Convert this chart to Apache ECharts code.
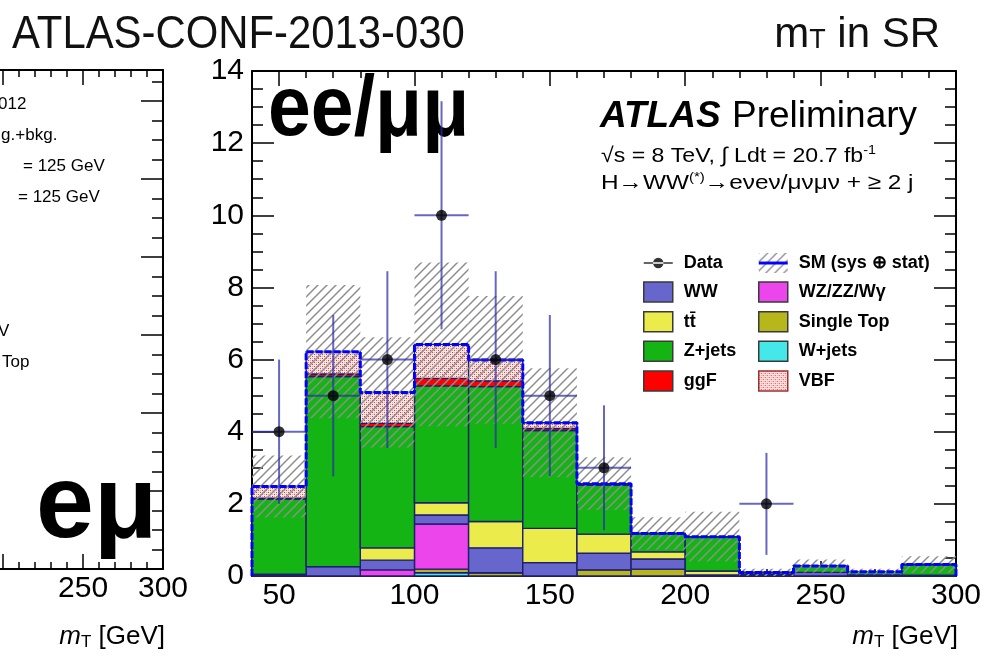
<!DOCTYPE html>
<html><head><meta charset="utf-8">
<script src="https://cdn.jsdelivr.net/npm/echarts@6/dist/echarts.min.js"></script>
<style>html,body{margin:0;padding:0;background:#fff}#c{width:984px;height:662px}</style>
</head><body><div id="c"></div>
<script>
// ---------- data (ee/mumu, mT in SR, ATLAS-CONF-2013-030) ----------
const binLow = [40, 60, 80, 100, 120, 140, 160, 180, 200, 220, 240, 260, 280];
const binWidth = 20;
const wJets     = [0,    0,    0,    0.09, 0,    0,    0,    0,    0,    0,    0,    0,    0];
const singleTop = [0,    0,    0,    0.10, 0.09, 0,    0.17, 0.19, 0,    0,    0,    0,    0];
const wzzzwg    = [0,    0,    0.17, 1.25, 0,    0,    0,    0,    0,    0,    0,    0,    0];
const ww        = [0.02, 0.26, 0.27, 0.25, 0.69, 0.37, 0.46, 0.28, 0.03, 0.03, 0.10, 0.03, 0.02];
const ttbar     = [0.03, 0,    0.34, 0.34, 0.73, 0.95, 0.53, 0.20, 0.11, 0.02, 0,    0,    0];
const zJets     = [2.08, 5.27, 3.36, 3.24, 3.74, 2.71, 1.36, 0.51, 0.95, 0.05, 0.18, 0.09, 0.30];
const ggF       = [0.03, 0.07, 0.09, 0.21, 0.16, 0.06, 0.02, 0,    0,    0,    0,    0,    0];
const vbf       = [0.32, 0.62, 0.86, 0.94, 0.58, 0.16, 0.02, 0,    0,    0,    0,    0,    0];
const smBandErr = [0.86, 1.85, 1.53, 2.27, 1.77, 1.51, 0.73, 0.45, 0.69, 0.10, 0.18, 0.08, 0.23];
const dataCounts = [4, 5, 6, 10, 6, 5, 3, 0, 0, 2, 0, 0, 0];

const xMajorTicks = [50, 100, 150, 200, 250, 300];
const xMinorTicks = [40, 50, 60, 70, 80, 90, 100, 110, 120, 130, 140, 150, 160, 170, 180, 190, 200, 210, 220, 230, 240, 250, 260, 270, 280, 290, 300];
// left (e-mu) panel, only its right-hand part is visible
const leftMajorTicks = [200, 250, 300];
const leftMinorTicks = [200, 210, 220, 230, 240, 250, 260, 270, 280, 290, 300];
const leftTickLabels = [250, 300];

// ---------- patterns ----------
const HATCH = '#8e8e8e';
function hatchCanvas(w, h, withLine) {
  const c = document.createElement('canvas'); c.width = w; c.height = h;
  const g = c.getContext('2d');
  g.strokeStyle = HATCH; g.lineWidth = 1.4;
  g.beginPath();
  for (let k = -h; k < w + h; k += 9) { g.moveTo(k - 1, h + 1); g.lineTo(k + h + 1, -1); }
  g.stroke();
  if (withLine) { g.fillStyle = '#0000ff'; g.fillRect(0, h / 2 - 1.5, w, 3); }
  return c;
}
function hatchTile() {
  const c = document.createElement('canvas'); c.width = 9; c.height = 9;
  const g = c.getContext('2d');
  g.strokeStyle = HATCH; g.lineWidth = 1.5;
  g.beginPath();
  g.moveTo(-1, 10); g.lineTo(10, -1);
  g.moveTo(-1, 1); g.lineTo(1, -1);
  g.moveTo(8, 10); g.lineTo(10, 8);
  g.stroke();
  return c;
}
function vbfTile() {
  const c = document.createElement('canvas'); c.width = 4; c.height = 4;
  const g = c.getContext('2d');
  g.fillStyle = '#fbe6e6'; g.fillRect(0, 0, 4, 4);
  g.fillStyle = '#e83a3a'; g.fillRect(0, 0, 1, 1); g.fillRect(2, 2, 1, 1);
  g.fillStyle = '#f3a0a0'; g.fillRect(2, 0, 1, 1); g.fillRect(0, 2, 1, 1);
  return c;
}
const hatchPattern = { image: hatchTile(), repeat: 'repeat' };
const vbfPattern = { image: vbfTile(), repeat: 'repeat' };
const smIconPattern = { image: hatchCanvas(29, 20, true), repeat: 'repeat' };

const FONT = "'Liberation Sans', Arial, Helvetica, sans-serif";
const OUTLINE = '#1e1e6e';

// ---------- stacked layers ----------
const layerDefs = [
  { name: 'W+jets', values: wJets, color: '#45e8e8' },
  { name: 'Single Top', values: singleTop, color: '#b7b71c' },
  { name: 'WZ/ZZ/Wγ', values: wzzzwg, color: '#ec45ec' },
  { name: 'WW', values: ww, color: '#6666cc' },
  { name: 'tt\u0304', values: ttbar, color: '#ebeb4c' },
  { name: 'Z+jets', values: zJets, color: '#14b414' },
  { name: 'ggF', values: ggF, color: '#ff0000' },
  { name: 'VBF', values: vbf, color: vbfPattern }
];
let cum = binLow.map(() => 0);
const layerSeries = layerDefs.map(def => {
  const data = binLow.map((lo, i) => [lo, lo + binWidth, cum[i], cum[i] + def.values[i]]);
  cum = cum.map((c, i) => c + def.values[i]);
  return {
    type: 'custom', name: def.name, xAxisIndex: 0, yAxisIndex: 0, z: 2, silent: true,
    itemStyle: { color: def.color }, encode: { x: [0, 1], y: [2, 3] }, data,
    renderItem: (params, api) => {
      const a = api.coord([api.value(0), api.value(3)]);
      const b = api.coord([api.value(1), api.value(2)]);
      return { type: 'rect', z2: 1, shape: { x: a[0], y: a[1], width: b[0] - a[0], height: b[1] - a[1] },
        style: { fill: def.color, stroke: OUTLINE, lineWidth: 1.4 } };
    }
  };
});
const totals = cum;

const bandSeries = {
  type: 'custom', name: 'SM (sys ⊕ stat)', xAxisIndex: 0, yAxisIndex: 0, z: 3, silent: true,
  itemStyle: { color: hatchPattern }, encode: { x: [0, 1], y: [2, 3] },
  data: binLow.map((lo, i) => [lo, lo + binWidth, Math.max(0, totals[i] - smBandErr[i]), totals[i] + smBandErr[i]]),
  renderItem: (params, api) => {
    const a = api.coord([api.value(0), api.value(3)]);
    const b = api.coord([api.value(1), api.value(2)]);
    return { type: 'rect', z2: 100, shape: { x: a[0], y: a[1], width: b[0] - a[0], height: b[1] - a[1] },
      style: { fill: hatchPattern } };
  }
};

const totalLine = {
  type: 'line', name: 'SM total', xAxisIndex: 0, yAxisIndex: 0, z: 4, silent: true,
  step: 'end', showSymbol: false, symbol: 'none',
  lineStyle: { color: '#0000ff', width: 3, type: [7, 2] },
  data: [[binLow[0], 0]].concat(binLow.map((lo, i) => [lo, totals[i]]),
        [[binLow[binLow.length - 1] + binWidth, totals[totals.length - 1]], [binLow[binLow.length - 1] + binWidth, 0]])
};

const dataPts = binLow.map((lo, i) => [lo + binWidth / 2, dataCounts[i]]).filter(d => d[1] > 0);
const errSeries = {
  type: 'custom', name: 'Data err', xAxisIndex: 0, yAxisIndex: 0, z: 5, silent: true,
  encode: { x: 0, y: 1 },
  data: dataPts.map(d => [d[0], d[1], Math.sqrt(d[1])]),
  renderItem: (params, api) => {
    const x = api.value(0), y = api.value(1), e = api.value(2);
    const top = api.coord([x, y + e]), bot = api.coord([x, y - e]);
    const l = api.coord([x - binWidth / 2, y]), r = api.coord([x + binWidth / 2, y]);
    const st = { stroke: 'rgba(45,45,170,0.72)', lineWidth: 2 };
    return { type: 'group', children: [
      { type: 'line', z2: 200, shape: { x1: top[0], y1: top[1], x2: bot[0], y2: bot[1] }, style: st },
      { type: 'line', z2: 200, shape: { x1: l[0], y1: l[1], x2: r[0], y2: r[1] }, style: st }
    ] };
  }
};
const dataSeries = {
  type: 'scatter', name: 'Data', xAxisIndex: 0, yAxisIndex: 0, z: 6, silent: true,
  symbol: 'circle', symbolSize: 11, itemStyle: { color: '#000' }, data: dataPts
};

// ---------- axes ----------
const axLine = { show: true, lineStyle: { color: '#000', width: 2 } };
const noLine = { show: false };
function xAx(grid, pos, min, max, ticks, len, labels, showLine) {
  return {
    type: 'value', gridIndex: grid, position: pos, min, max,
    axisLine: showLine ? axLine : noLine,
    axisTick: { show: true, inside: true, length: len, customValues: ticks, lineStyle: { color: '#000', width: 1.5 } },
    axisLabel: labels ? { show: true, customValues: labels, showMinLabel: true, showMaxLabel: true, hideOverlap: false,
      fontSize: 30, color: '#000', fontFamily: FONT, margin: 5 } : { show: false },
    splitLine: { show: false }
  };
}
const xAxes = [
  xAx(0, 'bottom', 40, 300, xMajorTicks, 15, xMajorTicks, true),
  xAx(0, 'bottom', 40, 300, xMinorTicks, 7, null, false),
  xAx(0, 'top', 40, 300, xMajorTicks, 15, null, true),
  xAx(0, 'top', 40, 300, xMinorTicks, 7, null, false),
  xAx(1, 'bottom', 198, 300, leftMajorTicks, 15, leftTickLabels, true),
  xAx(1, 'bottom', 198, 300, leftMinorTicks, 7, null, false),
  xAx(1, 'top', 198, 300, leftMajorTicks, 15, null, true),
  xAx(1, 'top', 198, 300, leftMinorTicks, 7, null, false)
];
function yAx(grid, pos, max, interval, labels) {
  return {
    type: 'value', gridIndex: grid, position: pos, min: 0, max, interval,
    axisLine: axLine,
    axisTick: { show: true, inside: true, length: 22, lineStyle: { color: '#000', width: 1.5 } },
    minorTick: { show: true, splitNumber: 4, length: 11, lineStyle: { color: '#000', width: 1.5 } },
    axisLabel: labels ? { show: true, fontSize: 30, color: '#000', fontFamily: FONT, margin: 8 } : { show: false },
    splitLine: { show: false }, minorSplitLine: { show: false }
  };
}
const yAxes = [
  yAx(0, 'left', 14, 2, true),
  yAx(0, 'right', 14, 2, false),
  yAx(1, 'right', 6.4, 1, false)
];

// ---------- legend ----------
const dataIcon = 'path://M0,0h0.01v0.01h-0.01z M28.99,19.99h0.01v0.01h-0.01z M0,9.3h29v1.4h-29z M9.3,10a5.2,5.2 0 1,0 10.4,0a5.2,5.2 0 1,0 -10.4,0z';
const box = { borderColor: '#3a3a3a', borderWidth: 1.5 };
const legendCommon = {
  orient: 'vertical', top: 253, itemWidth: 29, itemHeight: 20, itemGap: 8.2, padding: 0,
  selectedMode: false,
  textStyle: { fontFamily: FONT, fontWeight: 'bold', fontSize: 18, color: '#000', padding: [0, 0, 0, 6] }
};
const legends = [
  Object.assign({}, legendCommon, { left: 643, data: [
    { name: 'Data', icon: dataIcon, itemStyle: { color: '#000', borderWidth: 0 } },
    { name: 'WW', icon: 'rect', itemStyle: box },
    { name: 'tt\u0304', icon: 'rect', itemStyle: box },
    { name: 'Z+jets', icon: 'rect', itemStyle: box },
    { name: 'ggF', icon: 'rect', itemStyle: box }
  ] }),
  Object.assign({}, legendCommon, { left: 758, data: [
    { name: 'SM (sys ⊕ stat)', icon: 'rect', itemStyle: { color: smIconPattern, borderWidth: 0 } },
    { name: 'WZ/ZZ/Wγ', icon: 'rect', itemStyle: box },
    { name: 'Single Top', icon: 'rect', itemStyle: box },
    { name: 'W+jets', icon: 'rect', itemStyle: box },
    { name: 'VBF', icon: 'rect', itemStyle: { borderColor: '#a03030', borderWidth: 1.5 } }
  ] })
];

// ---------- texts ----------
const small = '17px ' + FONT;
const graphics = [
  { type: 'text', x: 12, y: 35, scaleX: 0.91, silent: true,
    style: { text: 'ATLAS-CONF-2013-030', font: '46px ' + FONT, fill: '#111', verticalAlign: 'middle' } },
  { type: 'text', x: 940, y: 35, silent: true,
    style: { text: '{a|m}{t|T}{a| in SR}', align: 'right', verticalAlign: 'middle', fill: '#111',
      rich: { a: { font: '42px ' + FONT, fill: '#111' }, t: { font: '27px ' + FONT, fill: '#111', padding: [12, 0, 0, 0] } } } },
  { type: 'text', x: 268, y: 112, scaleY: 1.1, silent: true,
    style: { text: 'ee/μμ', font: 'bold 77px ' + FONT, fill: '#000', verticalAlign: 'middle' } },
  { type: 'text', x: 36, y: 508, silent: true,
    style: { text: 'eμ', font: 'bold 104px ' + FONT, fill: '#000', verticalAlign: 'middle' } },
  { type: 'text', x: 600, y: 117, silent: true,
    style: { text: 'ATLAS', font: 'italic bold 37px ' + FONT, fill: '#000', verticalAlign: 'middle' } },
  { type: 'text', x: 732, y: 117, silent: true,
    style: { text: 'Preliminary', font: '37px ' + FONT, fill: '#000', verticalAlign: 'middle' } },
  { type: 'text', x: 601, y: 156, scaleX: 1.1, silent: true,
    style: { text: '{a|√s = 8 TeV, ∫ Ldt = 20.7 fb}{s|-1}', verticalAlign: 'middle',
      rich: { a: { font: '21px ' + FONT, fill: '#000' }, s: { font: '13px ' + FONT, fill: '#000', padding: [0, 0, 12, 0] } } } },
  { type: 'text', x: 601, y: 183, scaleX: 1.16, silent: true,
    style: { text: '{a|H→WW}{s|(*)}{a|→eνeν/μνμν + ≥ 2 j}', verticalAlign: 'middle',
      rich: { a: { font: '21px ' + FONT, fill: '#000' }, s: { font: '13px ' + FONT, fill: '#000', padding: [0, 0, 12, 0] } } } },
  { type: 'text', x: 958, y: 637, silent: true,
    style: { text: '{m|m}{t|T}{a| [GeV]}', align: 'right', verticalAlign: 'middle',
      rich: { m: { font: 'italic 26px ' + FONT, fill: '#000' }, t: { font: '17px ' + FONT, fill: '#000', padding: [10, 0, 0, 0] }, a: { font: '26px ' + FONT, fill: '#000' } } } },
  { type: 'text', x: 165, y: 637, silent: true,
    style: { text: '{m|m}{t|T}{a| [GeV]}', align: 'right', verticalAlign: 'middle',
      rich: { m: { font: 'italic 26px ' + FONT, fill: '#000' }, t: { font: '17px ' + FONT, fill: '#000', padding: [10, 0, 0, 0] }, a: { font: '26px ' + FONT, fill: '#000' } } } },
  { type: 'text', x: -52, y: 104, silent: true, style: { text: 'Data 2012', font: small, fill: '#000', verticalAlign: 'middle' } },
  { type: 'text', x: -14, y: 135, silent: true, style: { text: 'Sig.+bkg.', font: small, fill: '#000', verticalAlign: 'middle' } },
  { type: 'text', x: 23, y: 166, silent: true, style: { text: '= 125 GeV', font: small, fill: '#000', verticalAlign: 'middle' } },
  { type: 'text', x: 18, y: 197, silent: true, style: { text: '= 125 GeV', font: small, fill: '#000', verticalAlign: 'middle' } },
  { type: 'text', x: -2, y: 331, silent: true, style: { text: 'V', font: small, fill: '#000', verticalAlign: 'middle' } },
  { type: 'text', x: -50, y: 362, silent: true, style: { text: 'Single Top', font: small, fill: '#000', verticalAlign: 'middle' } }
];

const chart = echarts.init(document.getElementById('c'), null, { renderer: 'canvas' });
chart.setOption({
  animation: false,
  backgroundColor: '#fff',
  grid: [
    { left: 252, top: 71, width: 706, height: 505, containLabel: false },
    { left: 0, top: 70, width: 163, height: 499, containLabel: false }
  ],
  xAxis: xAxes,
  yAxis: yAxes,
  legend: legends,
  series: layerSeries.concat([bandSeries, totalLine, errSeries, dataSeries]),
  graphic: { elements: graphics }
});
</script></body></html>
